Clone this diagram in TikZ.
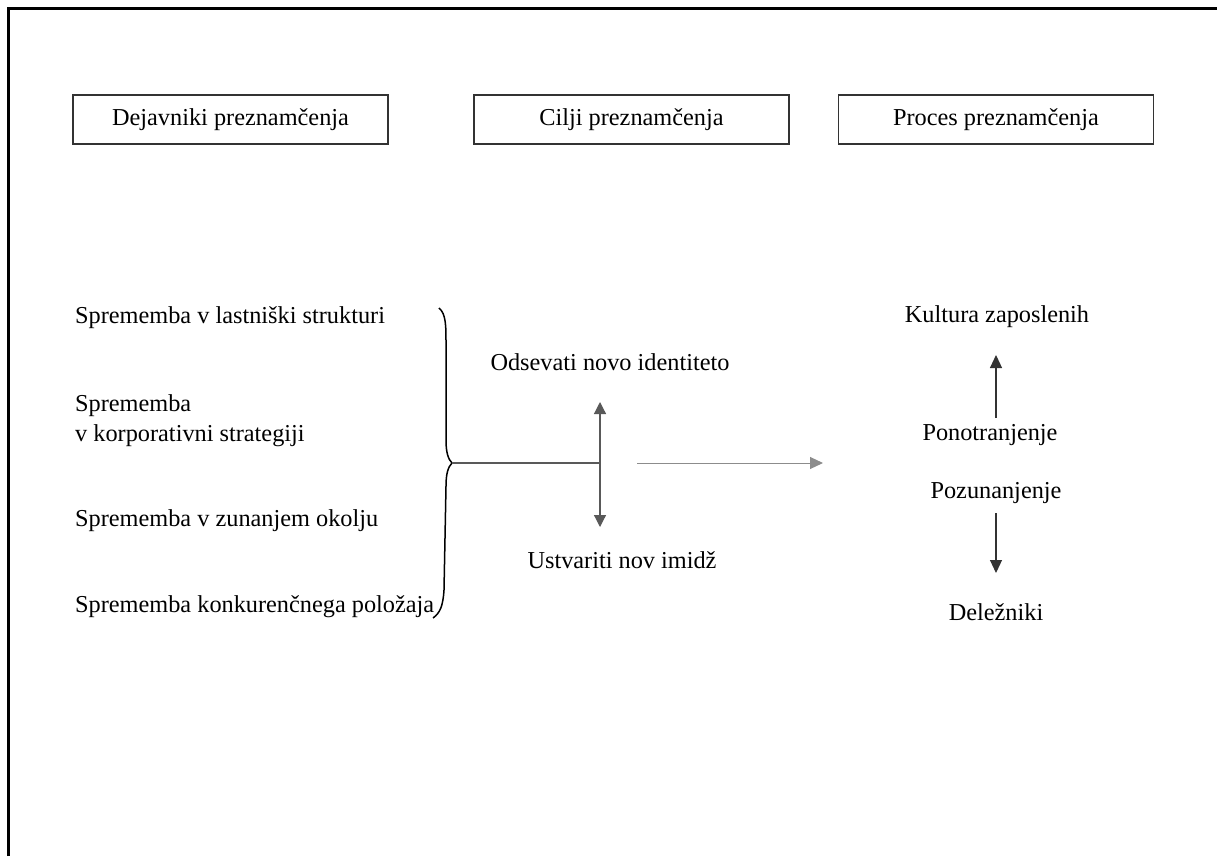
\documentclass[tikz,border=0pt]{standalone}
\usepackage{fontspec}
\setmainfont{Liberation Serif}
\usetikzlibrary{positioning,arrows.meta}

\begin{document}
\begin{tikzpicture}[x=1pt,y=-1pt,
						box/.style={draw=black!80,line width=1.5pt,minimum width=315pt,minimum height=49pt,inner sep=0pt,font=\fontsize{24.3}{30}\selectfont},
						txt/.style={inner sep=0pt,font=\fontsize{24.3}{30}\selectfont},
						lefttxt/.style={txt,anchor=west,align=left},
						arr/.style={-{Triangle[width=12pt,length=13pt]},line width=1.1pt}]
		\useasboundingbox (0,0) rectangle (1217,856);
		\draw[line width=3pt] (8,856) -- (8,9) -- (1217,9);

		\node[box]	(dejavniki)	at (230.5,119.5)	{Dejavniki preznamčenja};
		\node[box]	(cilji)		at (631.5,119.5)	{Cilji preznamčenja};
		\node[box]	(proces)	at (996,119.5)		{Proces preznamčenja};

		\node[lefttxt]	(lastnik)	at (75,318)	{Sprememba v lastniški strukturi};
		\node[lefttxt]	(strateg)	at (75,421)	{Sprememba\\v korporativni strategiji};
		\node[lefttxt]	(okolje)	at (75,521)	{Sprememba v zunanjem okolju};
		\node[lefttxt]	(polozaj)	at (75,607)	{Sprememba konkurenčnega položaja};

		\node[txt]	(identiteta)	at (610,362)	{Odsevati novo identiteto};
		\node[txt]	(imidz)			at (622,560)	{Ustvariti nov imidž};

		\node[txt]	(kultura)		at (997,317)	{Kultura zaposlenih};
		\node[txt]	(ponotranj)		at (990,435)	{Ponotranjenje};
		\node[txt]	(pozunanj)		at (996,493)	{Pozunanjenje};
		\node[txt]	(delezniki)		at (996,612)	{Deležniki};

		\coordinate (brace)	at (452,463);
		\coordinate (cross)	at (600,463);
		\coordinate (up)	at (600,402);
		\coordinate (down)	at (600,527);
		\coordinate (from)	at (637,463);
		\coordinate (to)	at (823,463);
		\coordinate (p1)	at (996,418);
		\coordinate (p2)	at (996,513);

		% zaviti oklepaj
		\draw[line width=1.5pt] (439,308) .. controls (446,314) and (446,325) .. (446,345)
			-- (446,440) .. controls (446,452) and (448,459) .. (brace)
			.. controls (448,467) and (446,474) .. (446,486)
			-- (444,590) .. controls (443,606) and (440,613) .. (433,618);

		\draw[line width=1.3pt,black!65] (brace) -- (cross);
		\draw[{Triangle[width=12pt,length=12pt]}-{Triangle[width=12pt,length=12pt]},line width=1.2pt,black!65] (up) -- (down);
		\draw[arr,black!45,line width=1pt] (from) -- (to);
		\draw[arr,black!80] (p1) -- (996,355);
		\draw[arr,black!80] (p2) -- (996,573);
	\end{tikzpicture}
\end{document}
